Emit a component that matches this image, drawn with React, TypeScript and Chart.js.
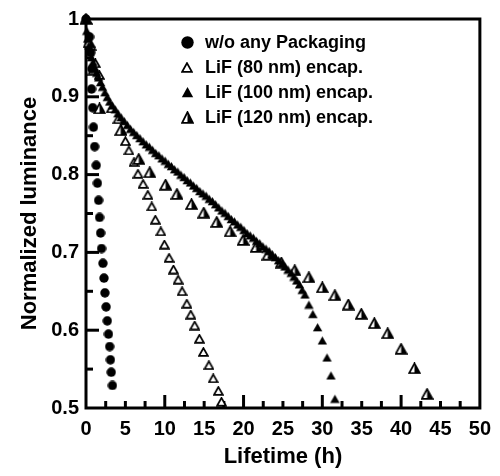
import React, { useEffect, useRef } from 'react';
import { Chart, registerables } from 'chart.js';

Chart.register(...registerables);

// ---------- data ----------
const seriesLabels = [
  'w/o any Packaging',
  'LiF (80 nm) encap.',
  'LiF (100 nm) encap.',
  'LiF (120 nm) encap.',
];

const noPackX = [0, 0.45, 0.6, 0.75, 0.7, 0.85, 0.95, 1.1, 1.3, 1.45, 1.6, 1.72, 1.85, 1.97, 2.15, 2.28, 2.4, 2.55, 2.7, 2.85, 3.0, 3.1, 3.2, 3.35];
const noPackY = [1.0, 0.977, 0.957, 0.936, 0.91, 0.886, 0.861, 0.836, 0.812, 0.789, 0.767, 0.745, 0.725, 0.705, 0.686, 0.667, 0.648, 0.63, 0.612, 0.595, 0.579, 0.562, 0.546, 0.529];

const lif80X = [0, 0.65, 1.2, 1.7, 3.2, 4.05, 4.5, 5.0, 5.45, 6.1, 6.6, 7.25, 7.85, 8.35, 8.8, 9.5, 9.95, 10.55, 11.1, 11.7, 12.2, 12.8, 13.3, 13.8, 14.4, 14.9, 15.6, 16.15, 16.8, 17.2];
const lif80Y = [1.0, 0.965, 0.943, 0.928, 0.885, 0.871, 0.857, 0.843, 0.831, 0.816, 0.801, 0.788, 0.774, 0.759, 0.742, 0.727, 0.71, 0.693, 0.678, 0.665, 0.65, 0.634, 0.62, 0.606, 0.589, 0.572, 0.555, 0.538, 0.522, 0.508];

const lif100X = [0, 0.1, 0.2, 0.35, 0.5, 0.7, 0.9, 1.1, 1.35, 1.6, 1.85, 2.1, 2.4, 2.7, 3.0, 3.35, 3.7, 4.05, 4.45, 4.85, 5.25, 5.65, 6.05, 6.45, 6.85, 7.25, 7.65, 8.05, 8.45, 8.85, 9.25, 9.65, 10.05, 10.45, 10.85, 11.25, 11.65, 12.05, 12.45, 12.85, 13.25, 13.65, 14.05, 14.45, 14.85, 15.25, 15.65, 16.05, 16.45, 16.85, 17.25, 17.65, 18.05, 18.45, 18.85, 19.25, 19.65, 20.05, 20.45, 20.85, 21.25, 21.65, 22.05, 22.45, 22.85, 23.25, 23.65, 24.05, 24.45, 24.85, 25.25, 25.65, 26.05, 26.4, 26.75, 27.1, 27.45, 27.8, 28.3, 28.8, 29.4, 30.0, 30.6, 31.1, 31.6];
const lif100Y = [1.0, 0.985, 0.975, 0.966, 0.958, 0.951, 0.945, 0.938, 0.931, 0.925, 0.919, 0.913, 0.906, 0.9, 0.894, 0.889, 0.884, 0.879, 0.874, 0.869, 0.864, 0.859, 0.855, 0.851, 0.847, 0.843, 0.839, 0.836, 0.832, 0.828, 0.825, 0.821, 0.818, 0.814, 0.811, 0.807, 0.804, 0.8, 0.797, 0.793, 0.79, 0.786, 0.783, 0.779, 0.776, 0.773, 0.769, 0.766, 0.762, 0.758, 0.754, 0.751, 0.747, 0.743, 0.74, 0.736, 0.733, 0.729, 0.725, 0.722, 0.719, 0.715, 0.712, 0.708, 0.705, 0.702, 0.698, 0.694, 0.69, 0.686, 0.682, 0.678, 0.674, 0.669, 0.664, 0.659, 0.652, 0.646, 0.633, 0.621, 0.604, 0.587, 0.565, 0.542, 0.512];

const lif120X = [0, 0.4, 1.0, 1.72, 4.4, 6.7, 8.1, 10.1, 11.55, 13.4, 14.95, 16.6, 18.3, 19.95, 21.6, 23.1, 24.8, 26.5, 28.3, 30.0, 31.6, 33.3, 34.95, 36.6, 38.3, 40.0, 41.7, 43.3];
const lif120Y = [1.0, 0.97, 0.935, 0.885, 0.857, 0.82, 0.803, 0.787, 0.775, 0.762, 0.751, 0.739, 0.727, 0.716, 0.707, 0.697, 0.687, 0.677, 0.668, 0.655, 0.645, 0.633, 0.621, 0.609, 0.596, 0.576, 0.551, 0.518];

const xTickLabelsStep = 5;
const yTickLabelsStep = 0.1;
const xMajorTicks = [10, 20, 30, 40];
const xMinorTicks = [2.5, 5, 7.5, 12.5, 15, 17.5, 22.5, 25, 27.5, 32.5, 35, 37.5, 42.5, 45, 47.5];
const yMajorTicks = [0.6, 0.7, 0.8, 0.9];
const yMinorTicks = [0.55, 0.65, 0.75, 0.85, 0.95];

// ---------- markers ----------
type Kind = 'circle' | 'triOpen' | 'triFilled' | 'triHalf';

function makeMarker(kind: Kind, w: number, h: number): HTMLCanvasElement {
  const c = document.createElement('canvas');
  c.width = w;
  c.height = h;
  const ctx = c.getContext('2d')!;
  ctx.fillStyle = '#000';
  ctx.strokeStyle = '#000';
  if (kind === 'circle') {
    ctx.beginPath();
    ctx.arc(w / 2, h / 2, Math.min(w, h) / 2 - 0.3, 0, Math.PI * 2);
    ctx.fill();
    return c;
  }
  const lw = 1.8;
  const p = lw / 2 + 0.2;
  const ax = w / 2, ay = p;
  const lx = p, ly = h - p;
  const rx = w - p, ry = h - p;
  ctx.lineJoin = 'miter';
  ctx.lineWidth = lw;
  if (kind === 'triFilled') {
    ctx.beginPath();
    ctx.moveTo(ax, ay - 0.2);
    ctx.lineTo(rx + 0.3, ry + 0.3);
    ctx.lineTo(lx - 0.3, ly + 0.3);
    ctx.closePath();
    ctx.fill();
    return c;
  }
  ctx.beginPath();
  ctx.moveTo(ax, ay);
  ctx.lineTo(rx, ry);
  ctx.lineTo(lx, ly);
  ctx.closePath();
  ctx.fillStyle = '#fff';
  ctx.fill();
  if (kind === 'triHalf') {
    ctx.beginPath();
    ctx.moveTo(ax, ay);
    ctx.lineTo(rx, ry);
    ctx.lineTo(ax, ry);
    ctx.closePath();
    ctx.fillStyle = '#000';
    ctx.fill();
  }
  ctx.beginPath();
  ctx.moveTo(ax, ay);
  ctx.lineTo(rx, ry);
  ctx.lineTo(lx, ly);
  ctx.closePath();
  ctx.stroke();
  return c;
}

const FONT = '"Liberation Sans", Arial, Helvetica, sans-serif';

export default function App() {
  const ref = useRef<HTMLCanvasElement | null>(null);

  useEffect(() => {
    if (!ref.current) return;

    const markers = [
      makeMarker('circle', 10, 10),
      makeMarker('triOpen', 11, 10),
      makeMarker('triFilled', 11, 10),
      makeMarker('triHalf', 13, 12),
    ];
    const legendMarkers = [
      makeMarker('circle', 13, 13),
      makeMarker('triOpen', 12, 11),
      makeMarker('triFilled', 13, 12),
      makeMarker('triHalf', 13, 13),
    ];

    const zip = (xs: number[], ys: number[]) => xs.map((x, i) => ({ x, y: ys[i] }));
    const seriesData = [
      zip(noPackX, noPackY),
      zip(lif80X, lif80Y),
      zip(lif100X, lif100Y),
      zip(lif120X, lif120Y),
    ];
    const drawOrder = [0, 3, 1, 2];

    const framePlugin = {
      id: 'frameTicks',
      beforeDatasetsDraw(chart: any) {
        const { ctx, chartArea, scales } = chart;
        const xs = scales.x, ys = scales.y;
        ctx.save();
        ctx.strokeStyle = '#000';
        ctx.lineWidth = 3;
        ctx.lineCap = 'butt';
        const bottom = chartArea.bottom, left = chartArea.left;
        const tick = (vals: number[], len: number, horiz: boolean) => {
          vals.forEach((v) => {
            ctx.beginPath();
            if (horiz) {
              const px = xs.getPixelForValue(v);
              ctx.moveTo(px, bottom);
              ctx.lineTo(px, bottom - len);
            } else {
              const py = ys.getPixelForValue(v);
              ctx.moveTo(left, py);
              ctx.lineTo(left + len, py);
            }
            ctx.stroke();
          });
        };
        tick(xMajorTicks, 13, true);
        tick(xMinorTicks, 7, true);
        tick(yMajorTicks, 13, false);
        tick(yMinorTicks, 7, false);
        ctx.strokeRect(chartArea.left, chartArea.top, chartArea.right - chartArea.left, chartArea.bottom - chartArea.top);
        ctx.restore();
      },
    };

    const legendPlugin = {
      id: 'insetLegend',
      afterDraw(chart: any) {
        const { ctx } = chart;
        ctx.save();
        ctx.font = `bold 18px ${FONT}`;
        ctx.fillStyle = '#000';
        ctx.textBaseline = 'middle';
        ctx.textAlign = 'left';
        seriesLabels.forEach((label, i) => {
          const y = 42 + i * 25;
          const img = legendMarkers[i];
          ctx.drawImage(img, Math.round(187 - img.width / 2), Math.round(y - img.height / 2));
          ctx.fillText(label, 205, y + 1);
        });
        ctx.restore();
      },
    };

    const chart = new Chart(ref.current, {
      type: 'scatter',
      data: {
        datasets: seriesLabels.map((label, i) => ({
          label,
          data: seriesData[i],
          pointStyle: markers[i] as any,
          pointRadius: 5,
          pointHoverRadius: 5,
          showLine: false,
          clip: false as any,
          order: drawOrder[i],
        })),
      },
      options: {
        animation: false,
        responsive: false,
        devicePixelRatio: 1,
        layout: { padding: { top: 15, right: 19, left: 0, bottom: 0 } },
        plugins: {
          legend: { display: false },
          tooltip: { enabled: false },
        },
        scales: {
          x: {
            type: 'linear',
            min: 0,
            max: 50,
            grid: { display: false, drawTicks: false },
            border: { display: false },
            ticks: {
              stepSize: xTickLabelsStep,
              color: '#000',
              padding: 9,
              font: { family: FONT, size: 20, weight: 'bold' },
            },
            title: {
              display: true,
              text: 'Lifetime (h)',
              color: '#000',
              font: { family: FONT, size: 22, weight: 'bold' },
              padding: { top: 0, bottom: 6 },
            },
            afterFit: (s: any) => {
              s.height = 68;
            },
          },
          y: {
            type: 'linear',
            min: 0.5,
            max: 1,
            grid: { display: false, drawTicks: false },
            border: { display: false },
            ticks: {
              stepSize: yTickLabelsStep,
              color: '#000',
              padding: 7,
              font: { family: FONT, size: 20, weight: 'bold' },
              callback: (v: any) => {
                const n = Number(v);
                return Math.abs(n - 1) < 1e-6 ? '1' : n.toFixed(1);
              },
            },
            title: {
              display: true,
              text: 'Normalized luminance',
              color: '#000',
              font: { family: FONT, size: 22, weight: 'bold' },
              padding: { top: 17, bottom: 0 },
            },
            afterFit: (s: any) => {
              s.width = 86;
            },
          },
        },
      },
      plugins: [framePlugin, legendPlugin],
    } as any);

    return () => chart.destroy();
  }, []);

  return (
    <div style={{ position: 'absolute', left: 0, top: 0, width: 500, height: 476 }}>
      <canvas ref={ref} width={500} height={476} style={{ display: 'block' }} />
    </div>
  );
}
